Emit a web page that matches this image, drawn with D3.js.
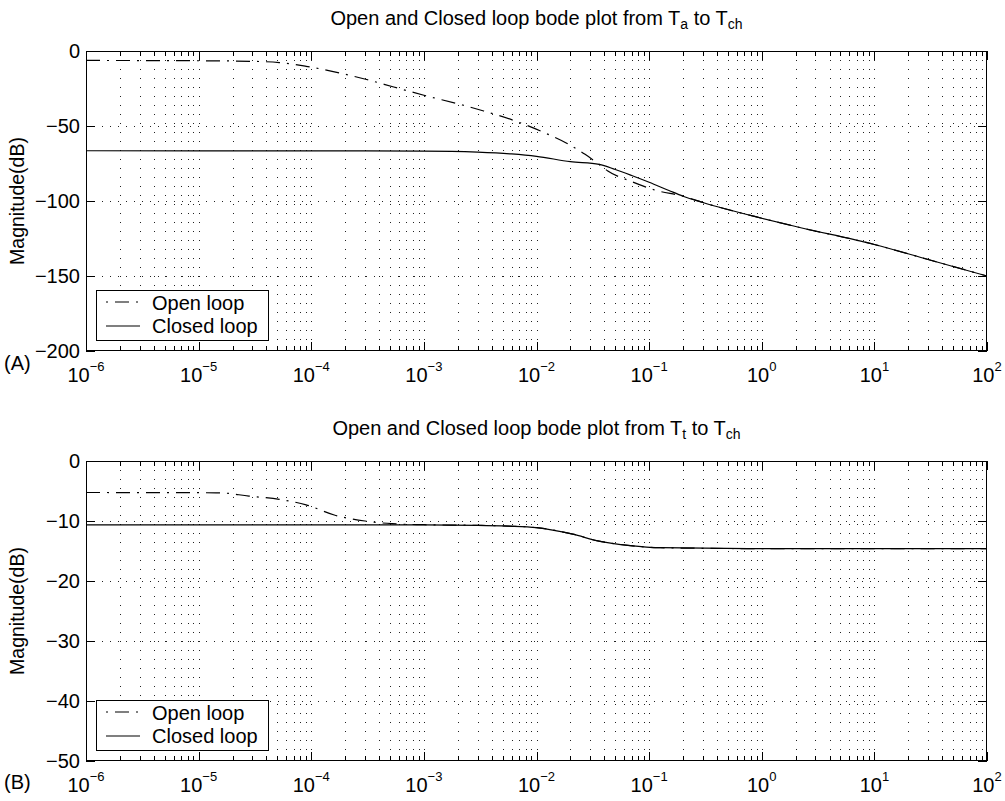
<!DOCTYPE html>
<html><head><meta charset="utf-8">
<script src="https://cdn.jsdelivr.net/npm/d3@7"></script>
<style>
body{margin:0;background:#fff}
svg{display:block}
text{font-family:"Liberation Sans",Arial,Helvetica,sans-serif;fill:#000}
</style>
</head><body>
<svg id="chart" width="1005" height="801"></svg>
<script>
// ---------- data (frequency, magnitude in dB) ----------
const freqA_open   = [1e-6, 1e-5, 3e-5, 5.2e-5, 9e-5, 3.1e-4, 5.4e-4, 1e-3, 2.2e-3, 3.4e-3, 6.5e-3, 1.17e-2, 1.8e-2, 2.7e-2, 3.6e-2, 4.3e-2, 6.8e-2, 1.15e-1, 2e-1, 3e-1, 1, 2, 10, 30, 100];
const dbA_open     = [-6.3, -6.5, -6.9, -7.7, -10.2, -19, -24, -29.5, -36, -40, -46.7, -54.4, -61, -68.9, -75.6, -80, -86.7, -92.9, -96.8, -101, -111.5, -117, -129, -139, -150];
const freqA_closed = [1e-6, 1e-4, 1e-3, 3e-3, 6e-3, 1e-2, 2e-2, 3.6e-2, 5e-2, 7e-2, 1e-1, 1.5e-1, 2e-1, 3e-1, 1, 2, 10, 30, 100];
const dbA_closed   = [-66.5, -66.6, -66.7, -67.4, -68.6, -70.2, -73.8, -75.6, -79, -83, -87.5, -93, -96.8, -101, -111.5, -117, -129, -139, -150];

const freqB_open   = [1e-6, 1.5e-5, 2.8e-5, 5.2e-5, 9e-5, 1.6e-4, 3e-4, 5.2e-4, 1e-3, 3e-3, 5.6e-3, 1e-2, 2.1e-2, 3.5e-2, 6.8e-2, 1.25e-1, 1, 100];
const dbB_open     = [-5.25, -5.3, -5.85, -6.4, -7.3, -9.0, -10.0, -10.45, -10.62, -10.72, -10.85, -11.1, -12.2, -13.3, -14.1, -14.45, -14.6, -14.6];
const freqB_closed = [1e-6, 1e-4, 1e-3, 3e-3, 5.6e-3, 1e-2, 2.1e-2, 3.5e-2, 6.8e-2, 1.25e-1, 1, 100];
const dbB_closed   = [-10.65, -10.65, -10.65, -10.72, -10.85, -11.1, -12.2, -13.3, -14.1, -14.45, -14.6, -14.6];

const xTickExps = [-6, -5, -4, -3, -2, -1, 0, 1, 2];
const yTicksA = [0, -50, -100, -150, -200];
const yTicksB = [0, -10, -20, -30, -40, -50];
const legendLabels = ["Open loop", "Closed loop"];
const yAxisLabel = "Magnitude(dB)";
const titleA = ["Open and Closed loop bode plot from T", "a", " to T", "ch"];
const titleB = ["Open and Closed loop bode plot from T", "t", " to T", "ch"];
const panelTags = ["(A)", "(B)"];

// ---------- drawing ----------
const svg = d3.select("#chart");
const L = 86, R = 987;
const minorTicks = [];
for (let e = -6; e < 2; e++) for (let k = 2; k <= 9; k++) minorTicks.push(k * Math.pow(10, e));
const majorTicks = xTickExps.map(e => Math.pow(10, e));
const fmtMinus = v => (v < 0 ? "\u2212" + Math.abs(v) : String(v));

function panel(opt) {
  const T = opt.top, B = opt.top + 300;
  const x = d3.scaleLog().domain([1e-6, 1e2]).range([L, R]);
  const y = d3.scaleLinear().domain(opt.yDomain).range([B, T]);
  const g = svg.append("g");

  // grid
  const grid = g.append("g").attr("stroke", "#222").attr("stroke-width", 1).attr("fill", "none");
  grid.selectAll("line.v").data(minorTicks.concat(majorTicks.slice(1, -1))).join("line")
    .attr("x1", d => Math.round(x(d)) + 0.5).attr("x2", d => Math.round(x(d)) + 0.5)
    .attr("y1", T).attr("y2", B).attr("stroke-dasharray", "1,8");
  grid.selectAll("line.h").data(opt.yTicks.slice(1, -1)).join("line")
    .attr("y1", d => Math.round(y(d)) + 0.5).attr("y2", d => Math.round(y(d)) + 0.5)
    .attr("x1", L).attr("x2", R).attr("stroke-dasharray", "1,7");

  // ticks
  const tk = g.append("g").attr("stroke", "#000").attr("stroke-width", 1);
  majorTicks.forEach(d => {
    const xx = Math.round(x(d)) + 0.5;
    tk.append("line").attr("x1", xx).attr("x2", xx).attr("y1", B).attr("y2", B - 9);
    tk.append("line").attr("x1", xx).attr("x2", xx).attr("y1", T).attr("y2", T + 9);
  });
  minorTicks.forEach(d => {
    const xx = Math.round(x(d)) + 0.5;
    tk.append("line").attr("x1", xx).attr("x2", xx).attr("y1", B).attr("y2", B - 5);
    tk.append("line").attr("x1", xx).attr("x2", xx).attr("y1", T).attr("y2", T + 5);
  });
  opt.yTicks.forEach(d => {
    const yy = Math.round(y(d)) + 0.5;
    tk.append("line").attr("x1", L).attr("x2", L + 9).attr("y1", yy).attr("y2", yy);
    tk.append("line").attr("x1", R).attr("x2", R - 9).attr("y1", yy).attr("y2", yy);
  });

  // curves
  const clipId = "clip" + opt.top;
  svg.append("clipPath").attr("id", clipId).append("rect").attr("x", L).attr("y", T).attr("width", R - L).attr("height", B - T);
  const line = d3.line().x(d => x(d[0])).y(d => y(d[1])).curve(d3.curveMonotoneX);
  const cg = g.append("g").attr("clip-path", `url(#${clipId})`).attr("fill", "none").attr("stroke", "#000").attr("stroke-width", 1.2);
  cg.append("path").attr("d", line(d3.zip(opt.closedF, opt.closedD)));
  cg.append("path").attr("d", line(d3.zip(opt.openF, opt.openD))).attr("stroke-dasharray", "14,7,2,7");

  // frame
  g.append("rect").attr("x", L + 0.5).attr("y", T + 0.5).attr("width", R - L - 1).attr("height", B - T - 1)
    .attr("fill", "none").attr("stroke", "#000").attr("stroke-width", 1);

  // y tick labels
  g.selectAll("text.yt").data(opt.yTicks).join("text")
    .attr("x", 80).attr("y", d => y(d) + 7).attr("text-anchor", "end")
    .style("font-size", "20px").text(fmtMinus);

  // x tick labels
  xTickExps.forEach(e => {
    const t = g.append("text").attr("x", x(Math.pow(10, e))).attr("y", B + 31)
      .attr("text-anchor", "middle").style("font-size", "20px");
    t.append("tspan").text("10");
    t.append("tspan").attr("dy", -11).style("font-size", "13px").text(fmtMinus(e));
  });

  // y axis label
  g.append("text").attr("transform", `translate(24,${(T + B) / 2}) rotate(-90)`)
    .attr("text-anchor", "middle").style("font-size", "19.5px").text(yAxisLabel);

  // title
  const tt = g.append("text").attr("x", (L + R) / 2).attr("y", T - 26).attr("text-anchor", "middle").style("font-size", "20px");
  tt.append("tspan").text(opt.title[0]);
  tt.append("tspan").attr("dy", 4).style("font-size", "14px").text(opt.title[1]);
  tt.append("tspan").attr("dy", -4).text(opt.title[2]);
  tt.append("tspan").attr("dy", 4).style("font-size", "14px").text(opt.title[3]);

  // panel tag
  g.append("text").attr("x", 4).attr("y", opt.tagY).style("font-size", "20px").text(opt.tag);

  // legend
  const lx = 96, ly = B - 61;
  const lg = g.append("g");
  lg.append("rect").attr("x", lx + 0.5).attr("y", ly + 0.5).attr("width", 172).attr("height", 50)
    .attr("fill", "#fff").attr("stroke", "#000").attr("stroke-width", 1);
  lg.append("line").attr("x1", 106).attr("x2", 139).attr("y1", ly + 12).attr("y2", ly + 12)
    .attr("stroke", "#000").attr("stroke-width", 1.2).attr("stroke-dasharray", "2,7,14,7,2,20");
  lg.append("line").attr("x1", 106).attr("x2", 140).attr("y1", ly + 36).attr("y2", ly + 36)
    .attr("stroke", "#000").attr("stroke-width", 1.2);
  lg.append("text").attr("x", 152).attr("y", ly + 20).style("font-size", "20px").text(legendLabels[0]);
  lg.append("text").attr("x", 152).attr("y", ly + 43).style("font-size", "20px").text(legendLabels[1]);
}

panel({top: 51, yDomain: [-200, 0], yTicks: yTicksA, openF: freqA_open, openD: dbA_open,
  closedF: freqA_closed, closedD: dbA_closed, title: titleA, tag: panelTags[0], tagY: 370});
panel({top: 461, yDomain: [-50, 0], yTicks: yTicksB, openF: freqB_open, openD: dbB_open,
  closedF: freqB_closed, closedD: dbB_closed, title: titleB, tag: panelTags[1], tagY: 789});
</script>
</body></html>
